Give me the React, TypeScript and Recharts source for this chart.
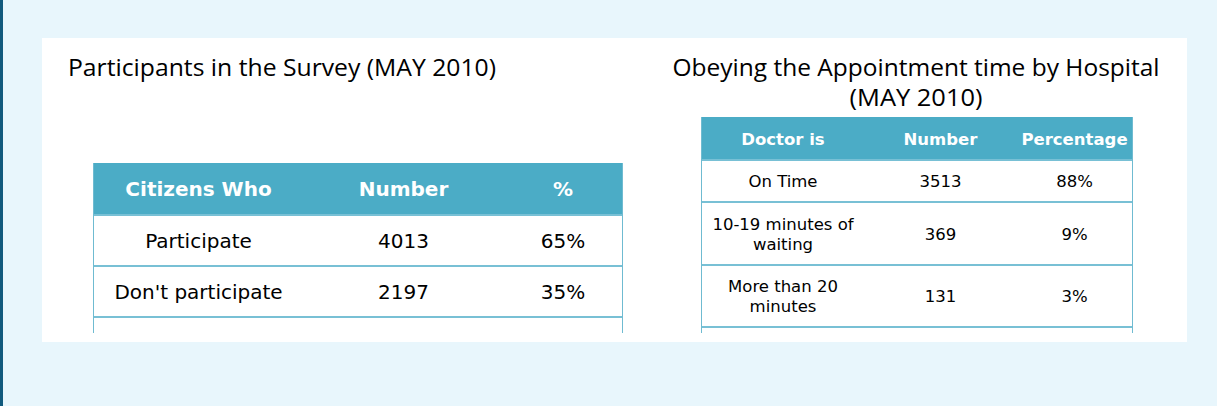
import React from "react";
import { ScatterChart, XAxis, YAxis, Scatter, ReferenceArea, ReferenceLine } from "recharts";

// ---------- data ----------
const leftTitle = "Participants in the Survey (MAY 2010)";
const leftHeaders = ["Citizens Who", "Number", "%"];
const leftCategories = ["Participate", "Don't participate"];
const leftNumbers = [4013, 2197];
const leftPercents = [65, 35];

const rightTitleLines = ["Obeying the Appointment time by Hospital", "(MAY 2010)"];
const rightHeaders = ["Doctor is", "Number", "Percentage"];
const rightCategories = ["On Time", "10-19 minutes of\nwaiting", "More than 20\nminutes"];
const rightNumbers = [3513, 369, 131];
const rightPercents = [88, 9, 3];

// ---------- layout (sizes / styles) ----------
const LEFT_LAYOUT = {
  left: 93,
  top: 163,
  cols: [210, 200, 119],
  rows: [52, 51, 51],
  tail: 16,
  headerFont: 20,
  bodyFont: 20,
  lineHeight: 22,
};
const RIGHT_LAYOUT = {
  left: 701,
  top: 117,
  cols: [163, 152, 116],
  rows: [43, 42, 63, 62],
  tail: 6,
  headerFont: 16.5,
  bodyFont: 16.5,
  lineHeight: 20,
};

const HEADER_FILL = "#4bacc6";
const GRID_COLOR = "#78c0d5";
const BORDER_COLOR = "#6fbbd1";

type Layout = typeof LEFT_LAYOUT;

function cumulative(arr: number[]) {
  const out: number[] = [];
  let s = 0;
  arr.forEach((v) => {
    out.push(s);
    s += v;
  });
  return { starts: out, total: s };
}

function CellText(props: any) {
  const { cx, cy, payload, layout } = props;
  if (cx == null || cy == null || !payload) return null;
  const lines: string[] = String(payload.text).split("\n");
  const fs = payload.header ? layout.headerFont : layout.bodyFont;
  const lh = layout.lineHeight;
  const y0 = cy - ((lines.length - 1) * lh) / 2 + fs * 0.37;
  return (
    <text
      x={cx}
      y={y0}
      textAnchor="middle"
      fontFamily="'DejaVu Sans', Verdana, sans-serif"
      fontSize={fs}
      fontWeight={payload.header ? "bold" : "normal"}
      fill={payload.header ? "#ffffff" : "#000000"}
    >
      {lines.map((l, i) => (
        <tspan key={i} x={cx} dy={i === 0 ? 0 : lh}>
          {l}
        </tspan>
      ))}
    </text>
  );
}

function DataTable({
  headers,
  body,
  layout,
}: {
  headers: string[];
  body: string[][];
  layout: Layout;
}) {
  const colC = cumulative(layout.cols);
  const rowC = cumulative(layout.rows);
  const W = colC.total;
  const H = rowC.total + layout.tail;
  const allRows = [headers, ...body];
  const cells: any[] = [];
  allRows.forEach((r, ri) =>
    r.forEach((text, ci) => {
      cells.push({
        x: colC.starts[ci] + layout.cols[ci] / 2,
        y: rowC.starts[ri] + layout.rows[ri] / 2,
        text,
        header: ri === 0,
      });
    })
  );
  const separators = layout.rows.map((h, i) => rowC.starts[i] + h);

  return (
    <div style={{ position: "absolute", left: layout.left, top: layout.top }}>
      <ScatterChart
        width={W + 1}
        height={H}
        margin={{ top: 0, right: 0, bottom: 0, left: 0 }}
      >
        <XAxis type="number" dataKey="x" domain={[-0.5, W + 0.5]} hide allowDataOverflow />
        <YAxis type="number" dataKey="y" domain={[0, H]} reversed hide allowDataOverflow />
        <ReferenceArea
          x1={-0.5}
          x2={W + 0.5}
          y1={0}
          y2={layout.rows[0]}
          fill={HEADER_FILL}
          fillOpacity={1}
          stroke="none"
          ifOverflow="visible"
        />
        {separators.map((y, i) => (
          <ReferenceLine
            key={i}
            y={y}
            stroke={GRID_COLOR}
            strokeWidth={2}
            ifOverflow="visible"
          />
        ))}
        <ReferenceLine x={0} stroke={BORDER_COLOR} strokeWidth={1} ifOverflow="visible" />
        <ReferenceLine x={W} stroke={BORDER_COLOR} strokeWidth={1} ifOverflow="visible" />
        <Scatter
          data={cells}
          dataKey="y"
          isAnimationActive={false}
          shape={(p: any) => <CellText {...p} layout={layout} />}
        />
      </ScatterChart>
    </div>
  );
}

export default function App() {
  const leftBody = leftCategories.map((c, i) => [c, String(leftNumbers[i]), `${leftPercents[i]}%`]);
  const rightBody = rightCategories.map((c, i) => [c, String(rightNumbers[i]), `${rightPercents[i]}%`]);
  return (
    <div
      style={{
        position: "fixed",
        left: 0,
        top: 0,
        width: 1217,
        height: 406,
        overflow: "hidden",
        background: "#e8f6fc",
      }}
    >
      <div style={{ position: "absolute", left: 0, top: 0, width: 3, height: 406, background: "#115a7d" }} />
      <div
        style={{
          position: "absolute",
          left: 42,
          top: 38,
          width: 1145,
          height: 304,
          background: "#ffffff",
        }}
      />
      <svg width={1217} height={406} style={{ position: "absolute", left: 0, top: 0 }}>
        <text
          x={68}
          y={76}
          fontFamily="'Open Sans', sans-serif"
          fontSize={24}
          fill="#000"
          textLength={428}
          lengthAdjust="spacingAndGlyphs"
        >
          {leftTitle}
        </text>
        <text
          x={916}
          y={76}
          textAnchor="middle"
          fontFamily="'Open Sans', sans-serif"
          fontSize={24}
          fill="#000"
          textLength={487}
          lengthAdjust="spacingAndGlyphs"
        >
          {rightTitleLines[0]}
        </text>
        <text
          x={916}
          y={106}
          textAnchor="middle"
          fontFamily="'Open Sans', sans-serif"
          fontSize={24}
          fill="#000"
          textLength={133}
          lengthAdjust="spacingAndGlyphs"
        >
          {rightTitleLines[1]}
        </text>
      </svg>
      <DataTable headers={leftHeaders} body={leftBody} layout={LEFT_LAYOUT} />
      <DataTable headers={rightHeaders} body={rightBody} layout={RIGHT_LAYOUT} />
    </div>
  );
}
